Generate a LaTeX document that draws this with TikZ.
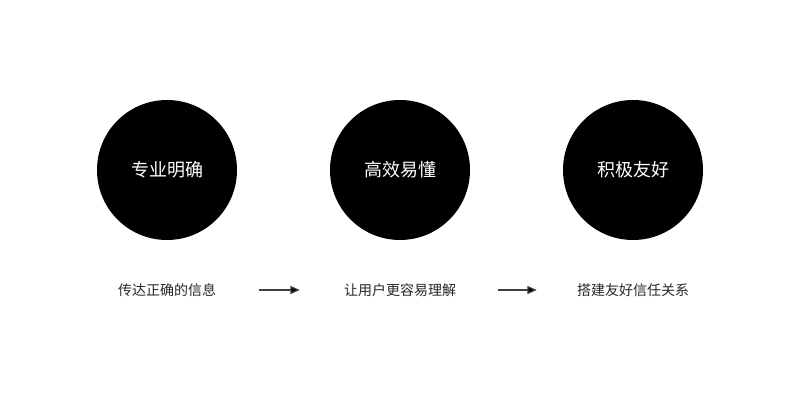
\documentclass[tikz,border=0pt]{standalone}
\usepackage{fontspec}
\newfontfamily\cjk{Noto Sans CJK SC}
\usetikzlibrary{arrows.meta}

\begin{document}
\begin{tikzpicture}[x=0.75pt, y=-0.75pt,
	every node/.style={font=\cjk},
	ball/.style={circle, fill=black, minimum size=105pt, inner sep=0pt, text=white, font=\cjk\fontsize{13.5}{16}\selectfont},
	lbl/.style={inner sep=0pt, text=black!85, font=\cjk\fontsize{10.5}{12}\selectfont},
	step arrow/.style={draw=black!75, line width=0.9pt, -{Triangle[length=7pt, width=6pt, fill=black]}}]
	\useasboundingbox (0,0) rectangle (800,402);
	\node[ball] (C1) at (167,170) {专业明确}; \node[ball] (C2) at (400,170) {高效易懂}; \node[ball] (C3) at (633,170) {积极友好};
	\node[lbl] (L1) at (167,290) {传达正确的信息};
	\node[lbl] (L2) at (400,290) {让用户更容易理解};
	\node[lbl] (L3) at (633,290) {搭建友好信任关系};
	\foreach \a/\b/\s/\e in {L1/L2/32pt/33pt, L2/L3/31pt/30pt} {\draw[step arrow, shorten <=\s, shorten >=\e] (\a) -- (\b);}
\end{tikzpicture}
\end{document}
